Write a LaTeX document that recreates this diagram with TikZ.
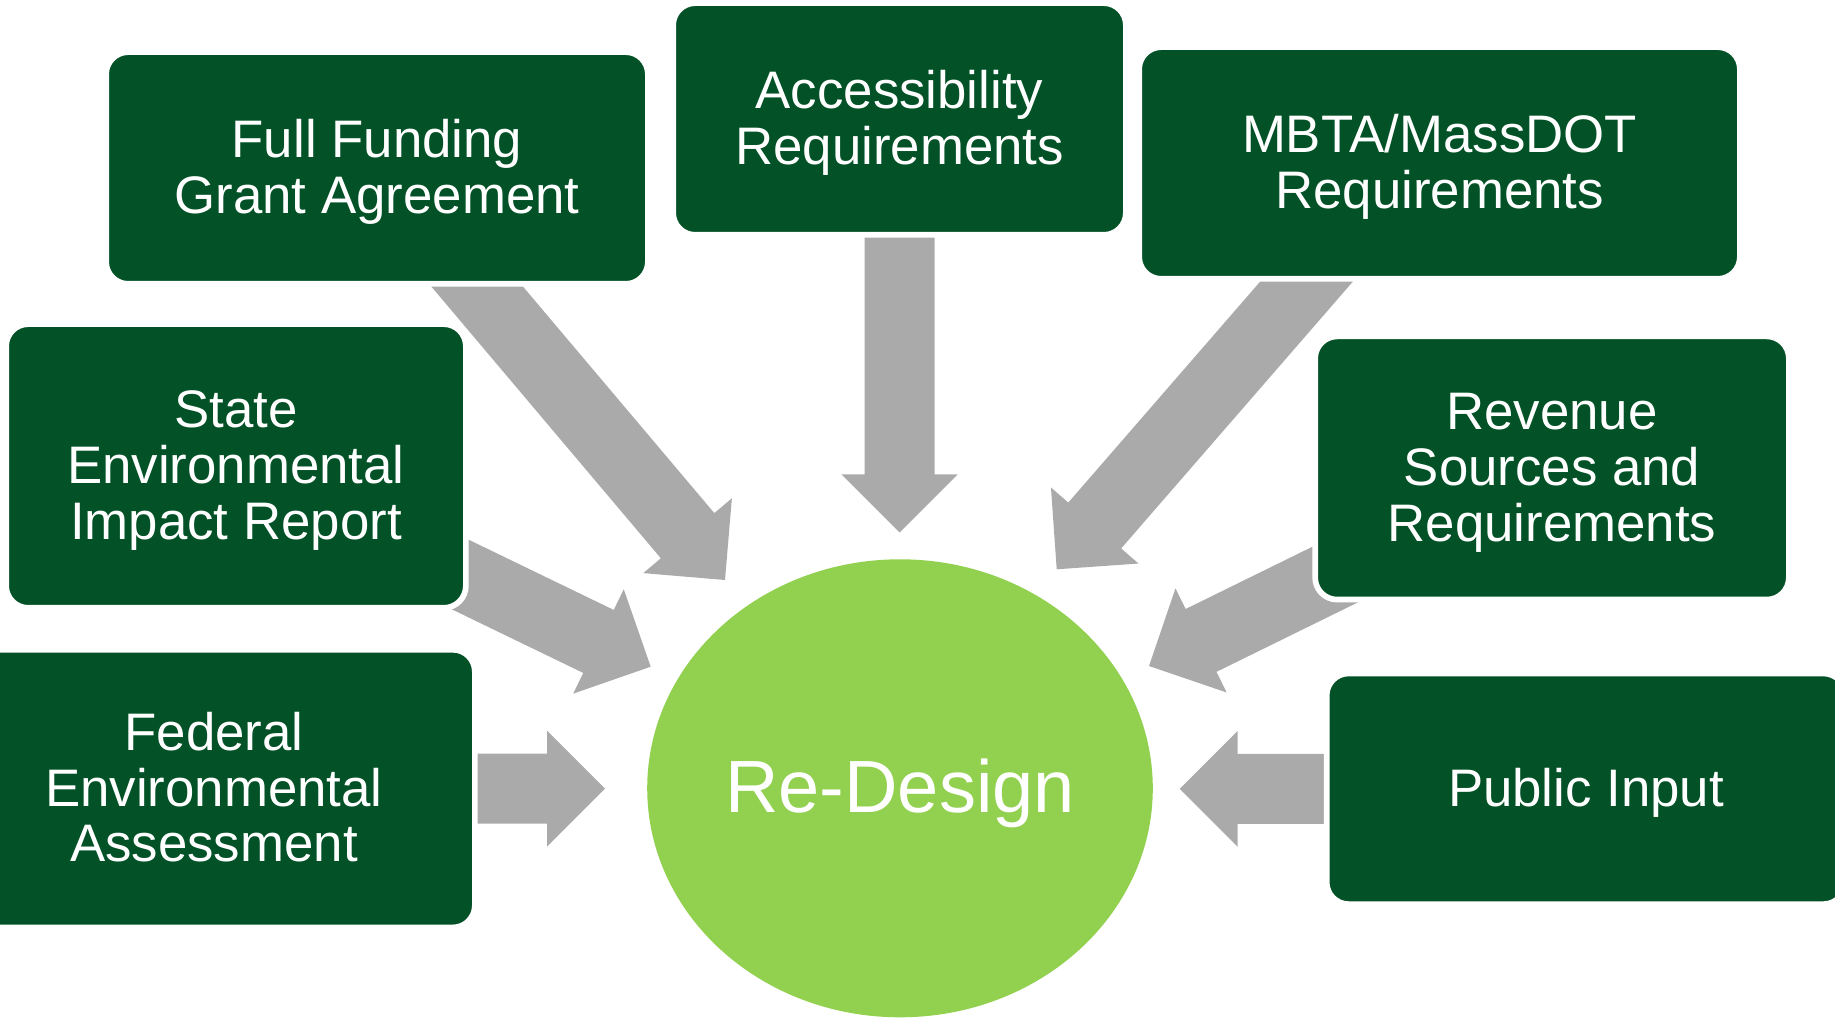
\documentclass[tikz,border=0pt]{standalone}
\usepackage{fontspec}
\setmainfont{Liberation Sans}
\usetikzlibrary{calc,shapes.geometric}

\pgfdeclarelayer{arrowlayer}
\pgfsetlayers{arrowlayer,main}

\definecolor{boxgreen}{RGB}{3,81,38}
\definecolor{hubgreen}{RGB}{146,208,80}
\definecolor{arrowgray}{RGB}{170,170,170}

% fixed height of the first line and depth of the last line of a label,
% so every label block sits the same way in its box
\newcommand{\lntop}{\rule{0pt}{0.9em}}
\newcommand{\lnbot}{\rule[-0.24em]{0pt}{0.24em}}

\tikzset{
  reqbox/.style={rectangle, rounded corners=11pt, fill=boxgreen, draw=white,
    line width=2.85pt, inner sep=0pt, text=white, align=center,
    font=\fontsize{26.4pt}{27.8pt}\selectfont},
  hub/.style={ellipse, fill=hubgreen, inner sep=0pt, text=white,
    font=\fontsize{37pt}{44pt}\selectfont},
  fatarrow/.style={fill=arrowgray}
}

% Block arrow from #1 (tail) to #2 (tip): shaft 35pt wide, head 58pt wide and 29pt long
\newcommand{\blockarrow}[2]{%
  \coordinate (ba-base) at ($(#2)!29pt!(#1)$);
  \fill[fatarrow]
    ($(#1)!17.5pt!90:(#2)$) -- ($(ba-base)!17.5pt!90:(#2)$) --
    ($(ba-base)!29pt!90:(#2)$) -- (#2) --
    ($(ba-base)!29pt!-90:(#2)$) -- ($(ba-base)!17.5pt!-90:(#2)$) --
    ($(#1)!17.5pt!-90:(#2)$) -- cycle;}

\begin{document}
\begin{tikzpicture}[x=0.5pt,y=-0.5pt]
  \useasboundingbox (0,0) rectangle (1835,1020);
  \clip (0,0) rectangle (1835,1020);

  % requirement boxes
  \node[reqbox, minimum width=270.85pt, minimum height=115.85pt] (ffga) at (377,168)
    {\lntop Full Funding\\Grant Agreement\lnbot};
  \node[reqbox, minimum width=226.35pt, minimum height=115.85pt] (access) at (899.5,119)
    {\lntop Accessibility\\Requirements\lnbot};
  \node[reqbox, minimum width=300.35pt, minimum height=115.85pt] (mbta) at (1439.5,163)
    {\lntop MBTA/MassDOT\\Requirements\lnbot};
  \node[reqbox, minimum width=229.85pt, minimum height=141.85pt] (seir) at (236,466)
    {\lntop State\\Environmental\\Impact Report\lnbot};
  \node[reqbox, minimum width=236.85pt, minimum height=131.6pt] (revenue) at (1552,468)
    {\lntop Revenue\\Sources and\\Requirements\lnbot};
  \node[reqbox, minimum width=260.85pt, minimum height=138.85pt] (fea) at (214,788.6)
    {\lntop Federal\\Environmental\\Assessment\lnbot};
  \node[reqbox, minimum width=259.35pt, minimum height=115.35pt] (public) at (1586,788.8)
    {\lntop Public Input\lnbot};

  % central hub
  \node[hub, minimum width=252.8pt, minimum height=229pt] (redesign) at (900,788.3)
    {\lntop Re-Design\lnbot};

  % arrow tips around the hub
  \coordinate (tipffga) at (725,580);
  \coordinate (tipaccess) at (899.5,532.5);
  \coordinate (tipmbta) at (1056.7,569.3);
  \coordinate (tipseir) at (650.7,666.7);
  \coordinate (tiprevenue) at (1149,666);
  \coordinate (tipfea) at (605,788.6);
  \coordinate (tippublic) at (1179.7,788.8);
  \coordinate (tailmbta) at ([xshift=-15pt]mbta.center);

  % arrows sit behind the boxes
  \begin{pgfonlayer}{arrowlayer}
    \blockarrow{ffga.center}{tipffga}
    \blockarrow{access.center}{tipaccess}
    \blockarrow{tailmbta}{tipmbta}
    \blockarrow{seir.center}{tipseir}
    \blockarrow{revenue.center}{tiprevenue}
    \blockarrow{fea.center}{tipfea}
    \blockarrow{public.center}{tippublic}
  \end{pgfonlayer}
\end{tikzpicture}
\end{document}
